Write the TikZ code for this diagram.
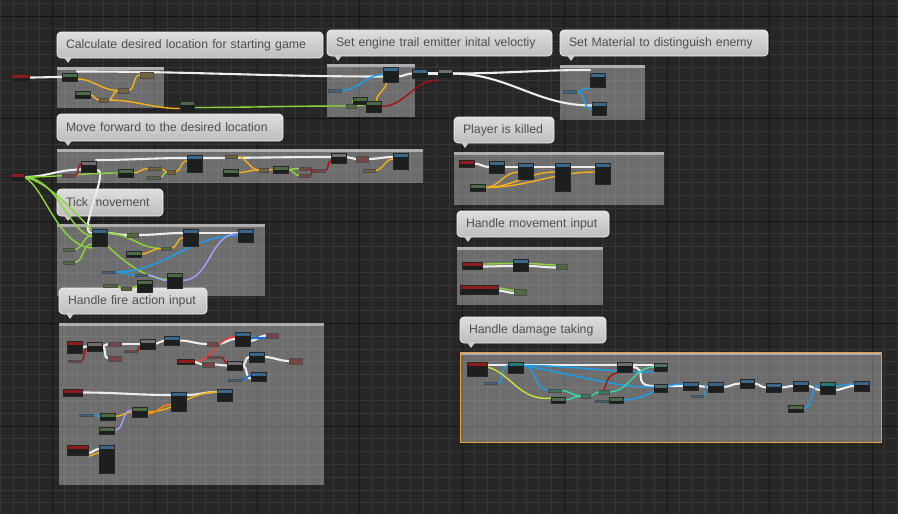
\documentclass[tikz,border=0pt]{standalone}
\usepackage{fontspec}
\setmainfont{Liberation Sans}
\pgfdeclarelayer{bglayer}
\pgfdeclarelayer{wirelayer}
\pgfsetlayers{bglayer,wirelayer,main}
\definecolor{bgc}{HTML}{262626}
\definecolor{gminor}{HTML}{353535}
\definecolor{gmajor}{HTML}{161616}
\definecolor{nbody}{HTML}{1C1F1D}
\definecolor{evred}{HTML}{8E1C1C}
\definecolor{hblue}{HTML}{39678C}
\definecolor{hgreen}{HTML}{4B6B47}
\definecolor{hgray}{HTML}{6E6E6E}
\definecolor{hteal}{HTML}{237A7A}
\definecolor{htealg}{HTML}{4E6E6A}
\definecolor{hyel}{HTML}{6E6540}
\definecolor{hgreenv}{HTML}{51693F}
\definecolor{hbluev}{HTML}{3A6585}
\definecolor{hredv}{HTML}{7A4444}
\definecolor{htealv}{HTML}{3F7268}
\definecolor{bubtxt}{HTML}{4E4E4E}
\tikzset{
  bpnode/.style={rectangle, draw=black!85, line width=0.4pt, fill=nbody, inner sep=0pt, outer sep=0pt},
  hdr/.style={path picture={\fill[#1] (path picture bounding box.north west) rectangle ([yshift=-3.5pt]path picture bounding box.north east);}},
  bpsmall/.style={rectangle, draw=black!70, line width=0.3pt, inner sep=0pt, outer sep=0pt},
  wbase/.style={line cap=round, line width=1.4pt},
  wex/.style={wbase, line width=2.1pt, draw=white!93!black},
  wy/.style={wbase, draw={rgb,255:red,245;green,176;blue,26}},
  wo/.style={wbase, draw={rgb,255:red,255;green,130;blue,0}},
  wg/.style={wbase, draw={rgb,255:red,140;green,214;blue,56}},
  wgy/.style={wbase, draw={rgb,255:red,190;green,230;blue,60}},
  wb/.style={wbase, draw={rgb,255:red,24;green,160;blue,240}},
  wbd/.style={wbase, draw={rgb,255:red,20;green,110;blue,230}},
  wr/.style={wbase, draw={rgb,255:red,168;green,16;blue,16}},
  wrl/.style={wbase, draw={rgb,255:red,255;green,60;blue,60}},
  wl/.style={wbase, draw={rgb,255:red,160;green,160;blue,255}},
  wt/.style={wbase, draw={rgb,255:red,56;green,216;blue,168}},
  bubble/.style={rectangle, rounded corners=4pt, top color=white!87!black, bottom color=white!74!black, draw=white!94!black, line width=0.7pt, inner xsep=9pt, inner ysep=0pt, outer sep=0pt, align=left, text=bubtxt, font=\fontsize{12.3}{14}\selectfont},
  bubfill/.style={fill=white!80!black},
  cmtfill/.style={fill=white, fill opacity=0.33},
  cmtstrip/.style={fill=white, fill opacity=0.45},
}
\newcommand\bpn[6]{%
  \pgfmathsetmacro\bpw{#4-#2}\pgfmathsetmacro\bph{#5-#3}%
  \pgfmathsetmacro\bpx{(#2+#4)/2}\pgfmathsetmacro\bpy{(#3+#5)/2}%
  \node[bpnode, hdr=#6, minimum width=\bpw pt, minimum height=\bph pt] (#1) at (\bpx,\bpy) {};}
\newcommand\bps[6]{%
  \pgfmathsetmacro\bpw{#4-#2}\pgfmathsetmacro\bph{#5-#3}%
  \pgfmathsetmacro\bpx{(#2+#4)/2}\pgfmathsetmacro\bpy{(#3+#5)/2}%
  \node[bpsmall, fill=#6, minimum width=\bpw pt, minimum height=\bph pt] (#1) at (\bpx,\bpy) {};}
\newcommand\bpwire[3]{\draw[#1] (#2) to[out=0,in=180] (#3);}
\newcommand\cmtbox[4]{%
  \fill[cmtfill] (#1,#2) rectangle (#3,#4);
  \fill[cmtstrip] (#1,#2) rectangle (#3,#2+3);}
\newcommand\cmtbub[6]{%
  \pgfmathsetmacro\bbw{#4-#2}\pgfmathsetmacro\bbh{#5-#3}\pgfmathsetmacro\bbt{#4-#2-18}%
  \node[bubble, anchor=north west, minimum width=\bbw pt, minimum height=\bbh pt, text width=\bbt pt] (#1) at (#2,#3) {\mbox{#6}};
  \fill[bubfill] (#2+7,#5-0.6) -- (#2+15,#5-0.6) -- (#2+11,#5+5) -- cycle;}
\begin{document}
\begin{tikzpicture}[x=1pt,y=-1pt]
\useasboundingbox (0,0) rectangle (898,514);
\begin{pgfonlayer}{bglayer}
\fill[bgc] (0,0) rectangle (898,514);
\begin{scope}
\clip (0,0) rectangle (898,514);
\foreach \i in {-4,...,66} {\draw[gminor, line width=0.9pt] ({52+12.8125*\i},0) -- ({52+12.8125*\i},514);}
\foreach \i in {-1,...,39} {\draw[gminor, line width=0.9pt] (0,{16+12.8125*\i}) -- (898,{16+12.8125*\i});}
\foreach \i in {0,...,8} {\draw[gmajor, line width=1pt] ({52+102.5*\i},0) -- ({52+102.5*\i},514);}
\foreach \i in {0,...,4} {\draw[gmajor, line width=1pt] (0,{16+102.5*\i}) -- (898,{16+102.5*\i});}
\end{scope}
% comment boxes
\cmtbox{57}{67}{164}{108}
\cmtbox{327}{64}{415}{117}
\cmtbox{560}{65}{645}{120}
\cmtbox{57}{149}{423}{183}
\cmtbox{57}{224}{265}{296}
\cmtbox{59}{323}{324}{485}
\cmtbox{454}{152}{664}{205}
\cmtbox{457}{247}{603}{305}
\cmtbox{460}{352}{881}{442}
\draw[draw={rgb,255:red,232;green,160;blue,64}, line width=1pt] (460,352) rectangle (881,442);
% bubbles
\cmtbub{b1}{57}{32}{323}{58}{Calculate desired location for starting game}
\cmtbub{b2}{327}{30}{552}{56}{Set engine trail emitter inital veloctiy}
\cmtbub{b3}{560}{30}{768}{56}{Set Material to distinguish enemy}
\cmtbub{b4}{57}{114}{283}{141}{Move forward to the desired location}
\cmtbub{b5}{57}{189}{163}{216}{Tick movement}
\cmtbub{b6}{59}{288}{207}{314}{Handle fire action input}
\cmtbub{b7}{454}{117}{554}{143}{Player is killed}
\cmtbub{b8}{457}{211}{609}{237}{Handle movement input}
\cmtbub{b9}{460}{317}{606}{343}{Handle damage taking}
\end{pgfonlayer}
% ---------- nodes ----------
% section 1
\bpn{ev1}{11}{74}{29}{81}{evred}
\bpn{n1a}{62}{73}{77}{81}{hgreen}
\bpn{n1b}{75}{91}{90}{98}{hgreen}
\bps{s1c}{99}{98}{108}{102}{hyel}
\bps{s1d}{118}{88}{128}{93}{hyel}
\bps{s1e}{140}{72}{153}{78}{hyel}
\bpn{n1f}{180}{101}{194}{112}{hgreen}
% section 2
\bpn{n2a}{383}{67}{398}{82}{hblue}
\bps{s2b}{328}{89}{341}{92}{hbluev}
\bps{s2r}{346}{104}{356}{108}{hgreenv}
\bpn{n2c}{353}{97}{367}{104}{hgreen}
\bpn{n2d}{366}{101}{381}{112}{hgreen}
\bpn{n2e}{412}{69}{427}{78}{hblue}
\bpn{n2f}{438}{69}{452}{78}{hgray}
% section 3
\bpn{n3a}{590}{73}{605}{87}{hblue}
\bpn{n3b}{592}{102}{606}{115}{hblue}
\bps{s3c}{563}{90}{576}{93}{hbluev}
% section 4
\bpn{ev4}{11}{173}{24}{181}{evred}
\bpn{n4a}{81}{161}{96}{172}{hgray}
\bps{s4a}{62}{174}{75}{177}{hredv}
\bpn{n4b}{118}{169}{133}{177}{hgreen}
\bps{s4b}{148}{167}{161}{170}{hyel}
\bps{s4c}{147}{176}{160}{179}{hgreenv}
\bps{s4d}{167}{170}{175}{174}{hyel}
\bpn{n4c}{187}{155}{202}{172}{hblue}
\bps{s4e}{225}{155}{237}{158}{hyel}
\bpn{n4d}{223}{169}{238}{176}{hgreen}
\bps{s4f}{259}{168}{268}{172}{hyel}
\bpn{n4e}{273}{166}{288}{173}{hgreen}
\bps{s4g}{299}{167}{310}{170}{hredv}
\bps{s4h}{299}{174}{310}{177}{hredv}
\bps{s4i}{313}{169}{325}{172}{hredv}
\bpn{n4f}{331}{153}{346}{163}{hgray}
\bps{s4k}{356}{156}{368}{162}{hredv}
\bps{s4j}{363}{169}{375}{172}{hyel}
\bpn{n4g}{393}{153}{408}{169}{hblue}
% section 5
\bpn{n5a}{92}{229}{107}{246}{hblue}
\bps{s5a}{63}{248}{74}{251}{hgreenv}
\bps{s5b}{63}{261}{74}{264}{hgreenv}
\bps{s5c}{127}{233}{138}{237}{hgreenv}
\bpn{n5b}{126}{251}{141}{257}{hgreen}
\bps{s5d}{161}{247}{171}{250}{hgreenv}
\bpn{n5c}{183}{229}{198}{246}{hblue}
\bpn{n5d}{238}{229}{253}{242}{hblue}
\bps{s5e}{102}{271}{115}{273}{hbluev}
\bps{s5f}{135}{274}{147}{276}{hbluev}
\bpn{n5e}{167}{273}{182}{288}{hgreen}
\bpn{n5f}{137}{280}{152}{292}{hgreen}
\bps{s5g}{103}{284}{117}{287}{hgreenv}
\bps{s5h}{121}{287}{131}{290}{hgreenv}
% section 6
\bpn{ev6a}{67}{341}{82}{353}{evred}
\bpn{n6a}{87}{342}{102}{351}{hgray}
\bps{s6a}{68}{360}{81}{362}{hredv}
\bps{s6b}{108}{342}{121}{346}{hredv}
\bps{s6c}{108}{356}{121}{361}{hredv}
\bps{s6d}{124}{350}{137}{352}{hredv}
\bpn{n6b}{140}{339}{155}{349}{hgray}
\bpn{n6c}{164}{336}{179}{345}{hblue}
\bps{s6e}{207}{342}{218}{346}{hredv}
\bpn{n6d}{235}{332}{250}{346}{hblue}
\bps{s6f}{266}{333}{278}{338}{hredv}
\bpn{ev6b}{177}{359}{194}{364}{evred}
\bps{s6g}{207}{356}{221}{358}{hredv}
\bps{s6h}{202}{362}{214}{367}{hredv}
\bpn{n6e}{227}{361}{242}{370}{hgray}
\bpn{n6f}{249}{352}{264}{362}{hblue}
\bps{s6i}{289}{358}{302}{364}{hredv}
\bps{s6j}{228}{379}{241}{381}{hbluev}
\bpn{n6g}{251}{372}{266}{381}{hblue}
\bpn{ev6c}{63}{389}{82}{396}{evred}
\bpn{n6h}{171}{392}{186}{411}{hblue}
\bpn{n6i}{217}{389}{232}{401}{hblue}
\bps{s6k}{79}{414}{93}{416}{hbluev}
\bpn{n6j}{100}{413}{115}{420}{hgreen}
\bpn{n6k}{132}{407}{147}{417}{hgreen}
\bpn{n6l}{99}{427}{114}{434}{hgreen}
\bpn{ev6d}{67}{445}{88}{455}{evred}
\bpn{n6m}{99}{445}{114}{473}{hblue}
% section 7
\bpn{ev7}{459}{160}{474}{167}{evred}
\bpn{n7a}{489}{161}{504}{173}{hblue}
\bpn{n7b}{518}{163}{533}{179}{hblue}
\bpn{n7c}{555}{163}{570}{191}{hblue}
\bpn{n7d}{595}{163}{610}{184}{hblue}
\bpn{n7e}{470}{184}{485}{191}{hgreen}
% section 8
\bpn{ev8a}{462}{262}{482}{269}{evred}
\bpn{n8a}{513}{259}{528}{271}{hblue}
\bps{s8a}{556}{264}{567}{269}{hgreenv}
\bpn{ev8b}{460}{285}{498}{294}{evred}
\bps{s8b}{514}{289}{526}{295}{hgreenv}
% section 9
\bpn{ev9}{467}{362}{487}{376}{evred}
\bpn{n9a}{508}{362}{523}{373}{hteal}
\bps{s9a}{484}{382}{497}{384}{hbluev}
\bpn{n9b}{617}{362}{632}{372}{hgray}
\bpn{n9c}{654}{363}{667}{371}{htealg}
\bps{s9b}{548}{389}{561}{392}{htealv}
\bpn{n9d}{551}{397}{565}{403}{hgreen}
\bps{s9c}{581}{394}{590}{398}{htealv}
\bps{s9d}{599}{390}{609}{394}{htealv}
\bps{s9e}{595}{400}{608}{402}{hbluev}
\bpn{n9e}{609}{397}{623}{403}{hgreen}
\bpn{n9f}{654}{384}{667}{392}{htealg}
\bpn{n9g}{683}{382}{698}{390}{hblue}
\bps{s9f}{691}{395}{703}{397}{hbluev}
\bpn{n9h}{708}{382}{723}{392}{hblue}
\bpn{n9i}{740}{379}{754}{388}{hblue}
\bpn{n9j}{766}{383}{781}{392}{hblue}
\bpn{n9k}{793}{381}{808}{391}{hblue}
\bpn{n9l}{820}{382}{835}{394}{hteal}
\bpn{n9m}{854}{381}{869}{391}{hblue}
\bpn{n9n}{788}{405}{803}{412}{hgreen}
% ---------- wires ----------
\begin{pgfonlayer}{wirelayer}
% section 1
\bpwire{wex}{ev1.east}{n1a.west}
\bpwire{wex}{[yshift=1.5pt]n1a.north east}{[yshift=-2pt]n2a.west}
\bpwire{wy}{[yshift=-2pt]n1a.east}{s1d.west}
\bpwire{wy}{n1b.east}{s1c.west}
\bpwire{wy}{s1c.east}{s1d.west}
\bpwire{wy}{s1d.east}{s1e.west}
\bpwire{wy}{s1c.east}{[yshift=-2pt]n1f.west}
\bpwire{wg}{[yshift=-1pt]n1f.east}{s2r.west}
% section 2
\bpwire{wg}{s2r.east}{[yshift=2pt]n2d.west}
\bpwire{wg}{s2r.east}{n2c.west}
\bpwire{wb}{s2b.east}{n2a.west}
\draw[wy] ([xshift=-4pt]n2a.south) .. controls +(0,8) and +(0,-8) .. ([xshift=3pt]n2d.north);
\bpwire{wr}{n2d.east}{[yshift=-2pt]n2f.south west}
\bpwire{wex}{[yshift=-2pt]n2a.east}{n2e.west}
\bpwire{wex}{n2e.east}{n2f.west}
\bpwire{wex}{n2f.east}{[yshift=3pt]n3a.north west}
\bpwire{wex}{n2f.east}{[yshift=3pt]n3b.west}
% section 3
\bpwire{wb}{s3c.east}{[yshift=-1pt]n3a.south west}
\bpwire{wb}{s3c.east}{[yshift=-1pt]n3b.west}
% section 4
\bpwire{wex}{ev4.east}{[yshift=-3pt]n4a.west}
\bpwire{wex}{[yshift=1pt]n4a.north east}{[yshift=-3pt]n4c.north west}
\bpwire{wex}{[yshift=-3pt]n4c.north east}{[yshift=-4pt]n4f.north west}
\bpwire{wex}{[yshift=-4pt]n4f.north east}{s4k.west}
\bpwire{wex}{s4k.east}{[yshift=-4pt]n4g.north west}
\draw[wex] ([yshift=-4pt]n4a.east) .. controls (112,166) and (76,234) .. ([yshift=-4pt]n5a.north west);
\bpwire{wg}{ev4.east}{n4b.west}
\bpwire{wr}{s4a.east}{[yshift=2pt]n4a.west}
\bpwire{wy}{n4b.east}{s4b.west}
\bpwire{wg}{s4c.east}{s4d.west}
\bpwire{wy}{s4b.east}{s4d.west}
\bpwire{wy}{s4d.east}{[yshift=3pt]n4c.west}
\bpwire{wy}{s4e.east}{s4f.west}
\bpwire{wy}{n4d.east}{s4f.west}
\bpwire{wy}{s4f.east}{n4e.west}
\bpwire{wg}{n4e.east}{s4g.west}
\bpwire{wg}{n4e.east}{s4h.west}
\bpwire{wr}{s4g.east}{s4i.west}
\bpwire{wr}{s4h.east}{s4i.west}
\bpwire{wr}{s4i.east}{[yshift=2pt]n4f.south west}
\bpwire{wy}{s4j.east}{[yshift=2pt]n4g.west}
\draw[wg] (ev4.east) .. controls (58,178) and (68,232) .. ([yshift=1pt]n5a.west);
\draw[wg] (ev4.east) .. controls (44,186) and (58,246) .. ([yshift=-2pt]n5a.south west);
\draw[wg] (ev4.east) .. controls (70,186) and (112,276) .. ([yshift=1pt]n5e.west);
% section 5
\bpwire{wex}{[yshift=-4pt]n5a.north east}{s5c.west}
\bpwire{wex}{s5c.east}{[yshift=-4pt]n5c.north west}
\bpwire{wex}{[yshift=-4pt]n5c.north east}{[yshift=-4pt]n5d.north west}
\bpwire{wg}{s5a.east}{[yshift=2pt]n5a.west}
\bpwire{wg}{s5b.east}{[yshift=2pt]n5a.south west}
\bpwire{wg}{[yshift=-4pt]n5a.north east}{s5d.west}
\bpwire{wy}{n5b.east}{s5d.west}
\bpwire{wy}{s5d.east}{n5c.west}
\bpwire{wb}{s5e.east}{n5d.west}
\bpwire{wb}{s5e.east}{s5f.west}
\bpwire{wl}{s5f.east}{n5e.west}
\bpwire{wl}{n5e.east}{[yshift=2pt]n5d.west}
\bpwire{wg}{s5g.east}{s5h.west}
\bpwire{wg}{s5h.east}{n5f.west}
% section 6
\bpwire{wex}{ev6a.east}{n6a.west}
\bpwire{wex}{n6a.east}{s6b.west}
\bpwire{wex}{n6a.east}{s6c.west}
\bpwire{wr}{s6a.east}{[yshift=2pt]n6a.south west}
\bpwire{wex}{s6b.east}{n6b.west}
\bpwire{wr}{s6d.east}{[yshift=2pt]n6b.south west}
\bpwire{wex}{n6b.east}{n6c.west}
\bpwire{wex}{n6c.east}{s6e.west}
\bpwire{wex}{s6e.east}{n6d.west}
\bpwire{wrl}{ev6b.east}{[yshift=2pt]n6d.west}
\bpwire{wex}{[yshift=-2pt]n6d.east}{s6f.west}
\bpwire{wbd}{[yshift=1pt]n6d.east}{s6f.south west}
\bpwire{wex}{ev6b.east}{s6h.west}
\bpwire{wex}{s6h.east}{n6e.west}
\bpwire{wr}{s6g.east}{[yshift=-2pt]n6e.north west}
\bpwire{wex}{n6e.east}{n6f.west}
\bpwire{wex}{n6e.east}{[yshift=-2pt]n6g.west}
\bpwire{wex}{n6f.east}{s6i.west}
\bpwire{wbd}{s6j.east}{[yshift=1pt]n6g.west}
\bpwire{wex}{ev6c.east}{[yshift=-3pt]n6h.north west}
\bpwire{wex}{[yshift=-3pt]n6h.north east}{[yshift=-3pt]n6i.north west}
\bpwire{wy}{n6j.east}{n6k.west}
\bpwire{wy}{n6k.east}{[yshift=3pt]n6i.west}
\bpwire{wo}{[yshift=-2pt]n6k.east}{[yshift=-3pt]n6h.west}
\bpwire{wb}{s6k.east}{n6j.west}
\bpwire{wl}{n6l.east}{[yshift=2pt]n6k.west}
\bpwire{wex}{[yshift=-3pt]ev6d.east}{[yshift=-4pt]n6m.north west}
\bpwire{wy}{[yshift=-1pt]ev6d.south east}{[yshift=-8pt]n6m.north west}
% section 7
\bpwire{wex}{ev7.east}{n7a.west}
\bpwire{wex}{n7a.east}{[yshift=-4pt]n7b.north west}
\bpwire{wex}{[yshift=-4pt]n7b.north east}{[yshift=-4pt]n7c.north west}
\bpwire{wex}{[yshift=-4pt]n7c.north east}{[yshift=-4pt]n7d.north west}
\bpwire{wy}{n7e.east}{[yshift=-9pt]n7b.north west}
\bpwire{wy}{n7e.east}{[yshift=-9pt]n7c.north west}
\bpwire{wy}{n7e.east}{[yshift=-9pt]n7d.north west}
% section 8
\bpwire{wex}{[yshift=-1pt]ev8a.east}{[yshift=-1pt]n8a.west}
\bpwire{wg}{[yshift=1.5pt]ev8a.east}{[yshift=1.5pt]n8a.west}
\bpwire{wex}{[yshift=-1pt]n8a.east}{[yshift=-1pt]s8a.west}
\bpwire{wg}{[yshift=1.5pt]n8a.east}{[yshift=1.5pt]s8a.west}
\bpwire{wex}{[yshift=-1pt]ev8b.east}{[yshift=-1pt]s8b.west}
\bpwire{wg}{[yshift=1.5pt]ev8b.east}{[yshift=1.5pt]s8b.west}
% section 9
\bpwire{wex}{[yshift=-3pt]ev9.north east}{[yshift=-3pt]n9a.north west}
\bpwire{wex}{[yshift=-3pt]n9a.north east}{[yshift=-3pt]n9b.north west}
\bpwire{wex}{[yshift=-3pt]n9b.north east}{[yshift=-2pt]n9c.north west}
\draw[wex] (n9b.east) .. controls (650,368) and (630,386) .. ([yshift=-2pt]n9f.north west);
\bpwire{wex}{[yshift=-2pt]n9f.north east}{n9g.west}
\bpwire{wex}{n9g.east}{n9h.west}
\bpwire{wex}{n9h.east}{n9i.west}
\bpwire{wex}{n9i.east}{n9j.west}
\bpwire{wex}{n9j.east}{n9k.west}
\bpwire{wex}{n9k.east}{[yshift=-2pt]n9l.west}
\bpwire{wex}{[yshift=-2pt]n9l.east}{n9m.west}
\bpwire{wb}{s9a.east}{[yshift=2pt]n9a.west}
\bpwire{wb}{[yshift=2pt]n9a.east}{[yshift=-1pt]n9c.south west}
\draw[wb] ([yshift=2pt]n9a.east) .. controls (580,376) and (620,388) .. ([yshift=1pt]n9f.west);
\bpwire{wb}{[yshift=2pt]n9a.east}{s9b.west}
\draw[wgy] ([yshift=2pt]ev9.east) .. controls (510,372) and (520,402) .. ([yshift=2pt]n9d.west);
\bpwire{wt}{s9b.east}{s9c.west}
\bpwire{wt}{n9d.east}{s9c.west}
\bpwire{wt}{s9c.east}{s9d.west}
\bpwire{wt}{s9d.east}{n9c.west}
\draw[wr] (s9d.north) .. controls (606,384) and (608,374) .. ([yshift=-1pt]n9b.south west);
\bpwire{wb}{s9e.east}{n9e.west}
\bpwire{wb}{n9e.east}{[yshift=2pt]n9g.west}
\bpwire{wb}{s9f.east}{[yshift=2pt]n9h.west}
\bpwire{wb}{n9n.east}{[yshift=3pt]n9l.west}
\bpwire{wb}{[yshift=2pt]n9l.east}{[yshift=2pt]n9m.west}
\end{pgfonlayer}
\end{tikzpicture}
\end{document}
